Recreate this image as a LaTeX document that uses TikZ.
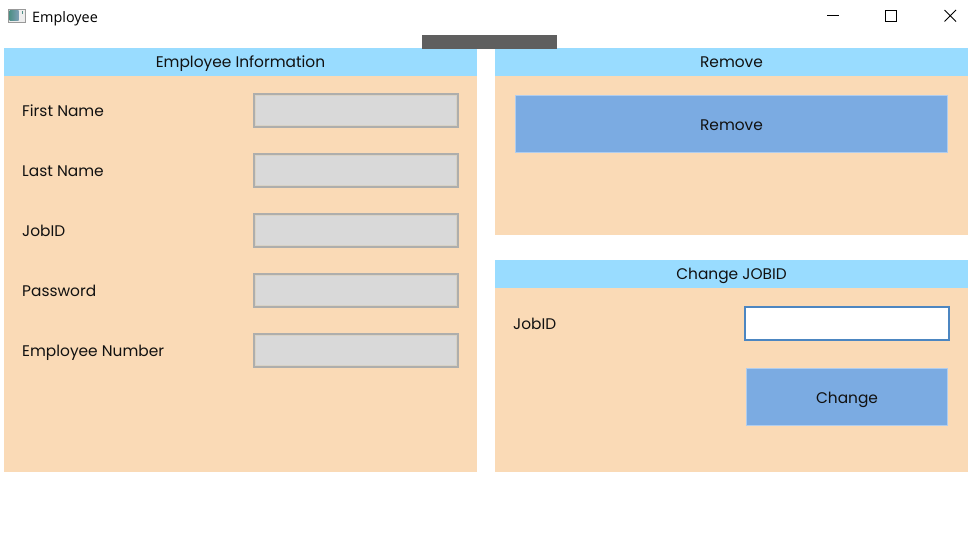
\documentclass[tikz,border=0pt]{standalone}
\usepackage{fontspec}
\setmainfont{Poppins}
\newfontfamily\titlefont{Open Sans}
\definecolor{panelc}{HTML}{FADAB6}
\definecolor{headc}{HTML}{99DCFF}
\definecolor{btnc}{HTML}{7BABE2}
\definecolor{inpf}{HTML}{D9D9D9}
\definecolor{inpb}{HTML}{AEAEAC}
\definecolor{inpi}{HTML}{D8D2C6}
\definecolor{focusb}{HTML}{4C86C1}
\definecolor{barc}{HTML}{5F5F5F}
\definecolor{inkc}{HTML}{111111}
\definecolor{iconl}{HTML}{4E8F86}
\definecolor{iconr}{HTML}{7F9FB5}
\tikzset{
 x=1pt,y=-1pt,
 box/.style={inner sep=0pt,outer sep=0pt,anchor=north west},
 panelbox/.style={box,fill=panelc},
 headbox/.style={box,fill=headc,text=inkc,font=\fontsize{15.4}{17}\selectfont,text height=14.5pt,text depth=4pt},
 btnbox/.style={box,fill=btnc,draw=btnc!60!white,line width=.5pt,text=inkc,font=\fontsize{15.4}{17}\selectfont,text height=16.5pt,text depth=4pt},
 inpbox/.style={box,fill=inpf,draw=inpb,line width=2pt,minimum width=204pt,minimum height=33pt,
   path picture={\draw[inpi,line width=4pt] (path picture bounding box.north west) rectangle (path picture bounding box.south east);}},
 lbl/.style={anchor=base west,inner sep=0pt,text=inkc,font=\fontsize{15.4}{17}\selectfont},
 ctl/.style={line width=1pt,black},
}
\begin{document}
\begin{tikzpicture}
\useasboundingbox[fill=white] (0,0) rectangle (975,544);
% title bar
\node[box,fill=black!7,draw=black!40,line width=.8pt,minimum width=17pt,minimum height=13pt] (icon) at (8,9) {};
\node[box,left color=iconl,right color=iconr,minimum width=9pt,minimum height=10pt] (iconpic) at (9.5,10.5) {};
\node[box,fill=iconl,minimum width=1pt,minimum height=3pt] (icontick) at (22,11) {};
\node[anchor=base west,inner sep=0pt,text=black,font=\titlefont\fontsize{14.4}{16}\selectfont] (title) at (32,22) {Employee};
\coordinate (mina) at (827,15.5); \coordinate (minb) at (839,15.5);
\draw[ctl] (mina) -- (minb);
\node[box,draw=black,line width=1pt,minimum width=11pt,minimum height=11pt] (maxbtn) at (885.5,10) {};
\coordinate (xa) at (944.5,10); \coordinate (xb) at (956,21.5);
\coordinate (xc) at (956,10); \coordinate (xd) at (944.5,21.5);
\draw[line width=.9pt,black] (xa) -- (xb) (xc) -- (xd);
% panels
\node[panelbox,minimum width=473pt,minimum height=424pt] (pinfo) at (4,48) {};
\node[panelbox,minimum width=473pt,minimum height=187pt] (premove) at (495,48) {};
\node[panelbox,minimum width=473pt,minimum height=212pt] (pchange) at (495,260) {};
\node[headbox,minimum width=473pt,minimum height=28pt] (hinfo) at (4,48) {Employee Information};
\node[headbox,minimum width=473pt,minimum height=28pt] (hremove) at (495,48) {Remove};
\node[headbox,minimum width=473pt,minimum height=28pt] (hchange) at (495,260) {Change JOBID};
\node[box,fill=barc,minimum width=135pt,minimum height=14pt] (bar) at (422,35) {};
% left form
\node[lbl] (l1) at (22,116.5) {First Name};
\node[lbl] (l2) at (22,176.5) {Last Name};
\node[lbl] (l3) at (22,236.5) {JobID};
\node[lbl] (l4) at (22,296.5) {Password};
\node[lbl] (l5) at (22,356.5) {Employee Number};
\node[inpbox] (i1) at (254,94) {};
\node[inpbox] (i2) at (254,154) {};
\node[inpbox] (i3) at (254,214) {};
\node[inpbox] (i4) at (254,274) {};
\node[inpbox] (i5) at (254,334) {};
% right
\node[btnbox,minimum width=432pt,minimum height=57pt] (bremove) at (515.5,95.5) {Remove};
\node[lbl] (l6) at (513,329.5) {JobID};
\node[box,fill=white,draw=focusb,line width=2pt,minimum width=204pt,minimum height=33pt] (i6) at (745,307) {};
\node[btnbox,minimum width=201pt,minimum height=57pt] (bchange) at (746.5,368.5) {Change};
\end{tikzpicture}
\end{document}
